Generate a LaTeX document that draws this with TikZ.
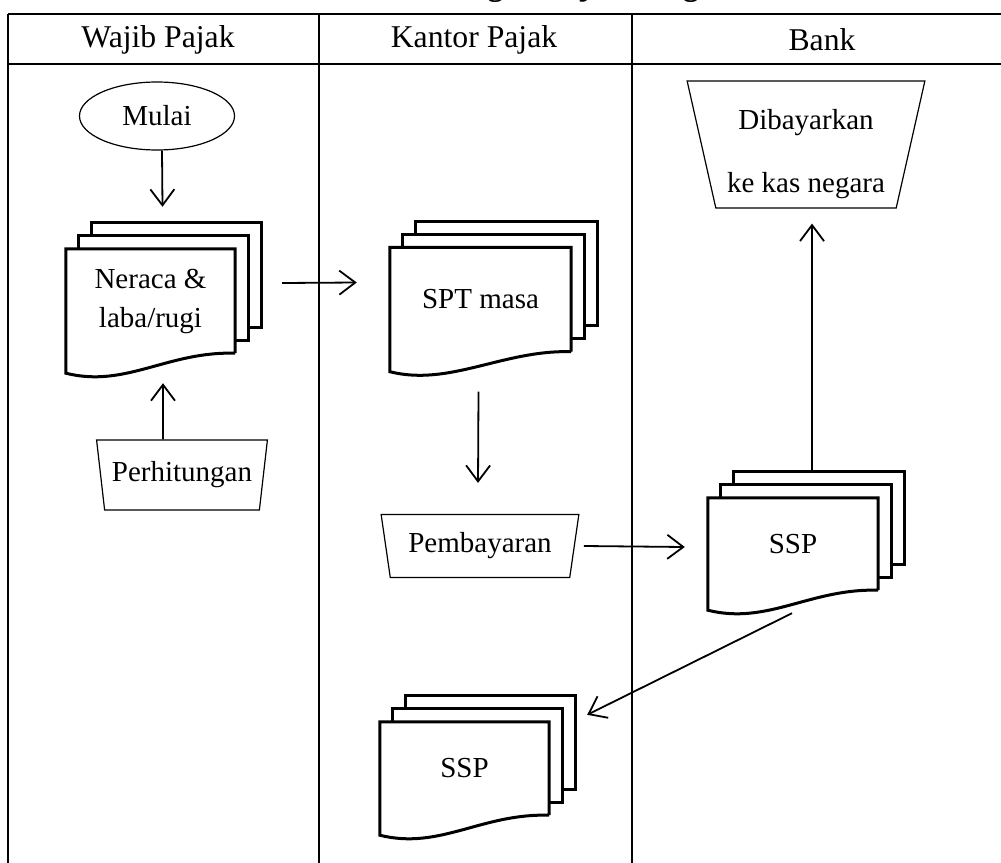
\documentclass[tikz,border=0pt]{standalone}
\usepackage{fontspec}
\setmainfont{Liberation Serif}
\usetikzlibrary{arrows.meta}
\usetikzlibrary{shapes.geometric}
\usetikzlibrary{calc}

\begin{document}
\begin{tikzpicture}[
		x=1pt, y=-1pt,
		>={Straight Barb[length=16pt,width=24pt]},
		every node/.style={font=\fontsize{29pt}{39pt}\selectfont},
		header/.style={font=\fontsize{31.7pt}{38pt}\selectfont},
		judul/.style={font=\fontsize{31.7pt}{38pt}\selectfont\bfseries,anchor=base},
		lane/.style={line width=2.4pt},
		flow/.style={->,line width=1.8pt},
		start/.style={ellipse,draw,line width=1.2pt,minimum width=155pt,minimum height=68pt},
		manual/.style={trapezium,draw,line width=1.2pt,trapezium stretches=true,
			trapezium left angle=103,trapezium right angle=103},
		document/.style={minimum height=104pt,inner sep=0pt,
			append after command={\pgfextra{\let\docnode\tikzlastnode
				\draw[line width=3pt,line join=miter]
					($(\docnode.north west)+(26,-13)$) -- ++(0,-13) -- ($(\docnode.north east)+(26,-26)$)
						-- ($(\docnode.south east)+(26,-26)$) -- ++(-13,0)
					($(\docnode.north west)+(13,0)$) -- ++(0,-13) -- ($(\docnode.north east)+(13,-13)$)
						-- ($(\docnode.south east)+(13,-13)$) -- ++(-13,0);
				\draw[line width=3pt,line join=miter]
					(\docnode.south east) -- (\docnode.north east) -- (\docnode.north west)
					-- ($(\docnode.south west)+(0,20)$) .. controls +(60,15) and +(-68,-2) .. (\docnode.south east);
			}}}
	]

		\useasboundingbox (0,0) rectangle (1001,862);

		% Title (cut off at the top)
		\node[judul] (judul) at (497,-5) {Gambar 4.1 Perhitungan Pajak Penghasilan};

		% Lanes
		\draw[lane] (8,14) -- (1012,14);
		\draw[lane] (8,64) -- (1012,64);
		\foreach \x in {8,319,632}
			\draw[lane] (\x,14) -- (\x,870);

		\node[header] (wp) at (158,40) {Wajib Pajak};
		\node[header] (kp) at (474,40) {Kantor Pajak};
		\node[header] (bk) at (822,40) {Bank};

		% Wajib Pajak
		\node[start] (mulai) at (157,116) {Mulai};
		\node[document,minimum width=169pt,align=center] (neraca) at (150.5,301) {Neraca \&\\laba/rugi};
		\node[manual,minimum width=171pt,minimum height=70pt] (perhitungan) at (182,475) {Perhitungan};

		% Kantor Pajak
		\node[document,minimum width=181pt] (spt) at (480.5,299.5) {SPT masa};
		\node[manual,minimum width=198pt,minimum height=63pt] (pembayaran) at (480,546) {Pembayaran};
		\node[document,minimum width=169pt,minimum height=93pt] (ssp2) at (464.5,768.5) {SSP};

		% Bank
		\node[manual,minimum width=238pt,minimum height=127pt,align=center,text height=103pt,inner ysep=2pt]
			(dibayar) at (806,144.5) {Dibayarkan\\[24pt]ke kas negara};
		\node[document,minimum width=170pt,minimum height=92pt] (ssp1) at (793,544) {SSP};

		% Flow
		\draw[flow] ([xshift=5pt]mulai.south) -- ([xshift=12pt,yshift=42pt]neraca.north);
		\draw[flow] ([xshift=-19pt]perhitungan.north) -- ([xshift=12.5pt,yshift=-30pt]neraca.south);
		\draw[flow] ([xshift=47pt,yshift=18pt]neraca.east) -- ([xshift=-33pt,yshift=17pt]spt.west);
		\draw[flow] ([xshift=-2pt,yshift=-40pt]spt.south) -- ([xshift=-2pt,yshift=31pt]pembayaran.north);
		\draw[flow] ([xshift=9pt]pembayaran.east) -- ([xshift=-23pt,yshift=-3pt]ssp1.west);
		\draw[flow] ([xshift=19pt,yshift=25pt]ssp1.north) -- ([xshift=6pt,yshift=-15pt]dibayar.south);
		\draw[flow] ([xshift=-1pt,yshift=-23pt]ssp1.south) -- ([xshift=38pt,yshift=7pt]ssp2.north east);
	\end{tikzpicture}
\end{document}
